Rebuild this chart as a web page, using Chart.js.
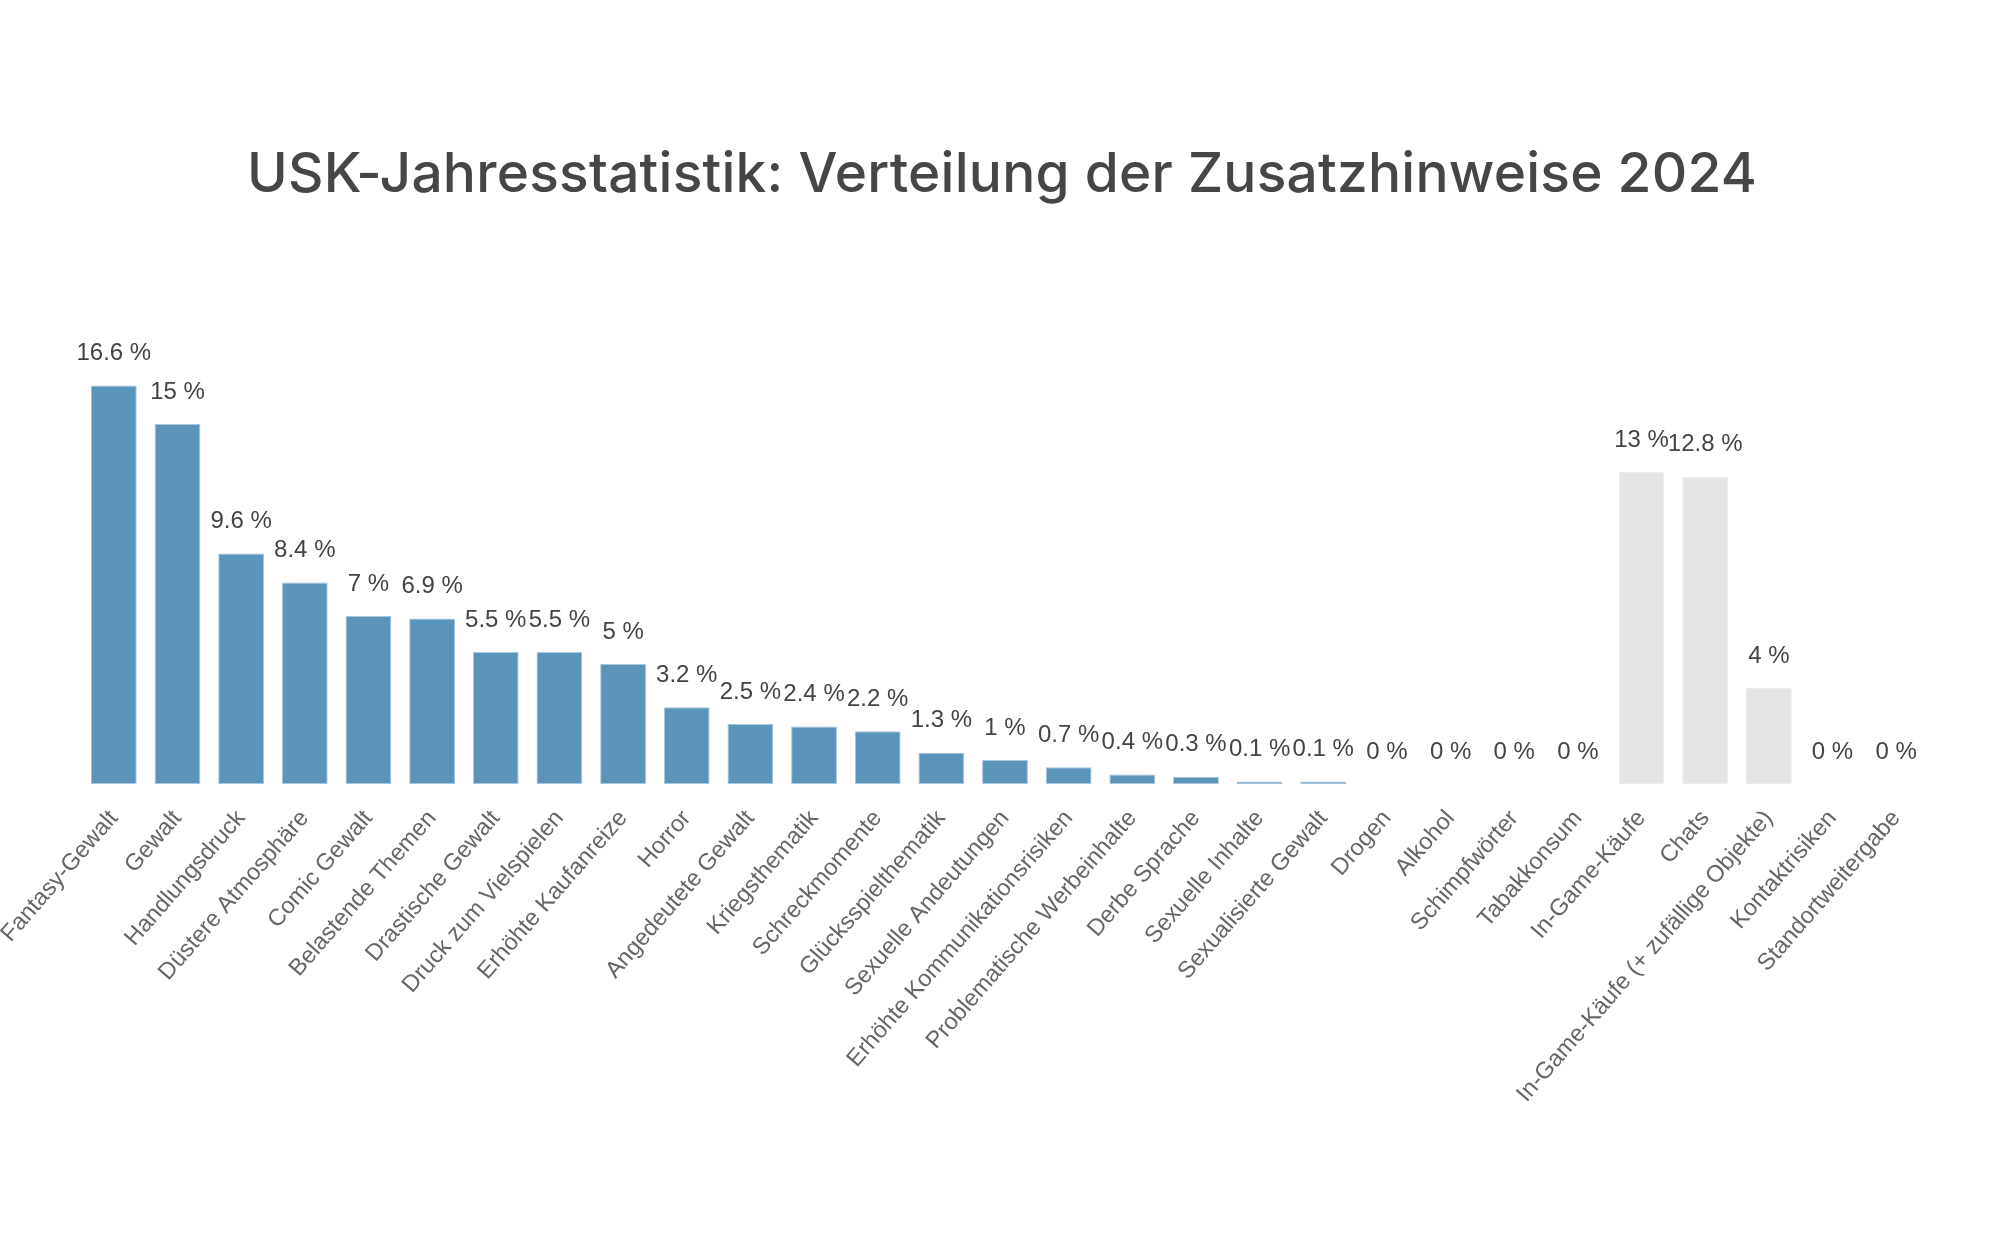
<!DOCTYPE html>
<html lang="de">
<head>
<meta charset="utf-8">
<title>USK-Jahresstatistik 2024</title>
<script src="https://cdn.jsdelivr.net/npm/chart.js@4.4.1/dist/chart.umd.min.js"></script>
<style>
  html, body { margin: 0; padding: 0; background: #fff; }
  #wrap { width: 2000px; height: 1260px; }
</style>
</head>
<body>
<div id="wrap"><canvas id="usk-chart" width="2000" height="1260"></canvas></div>
<script>
(function () {
  "use strict";

  // Zusatzhinweise (Kategorien)
  const categories = [
    "Fantasy-Gewalt", "Gewalt", "Handlungsdruck", "Düstere Atmosphäre", "Comic Gewalt",
    "Belastende Themen", "Drastische Gewalt", "Druck zum Vielspielen", "Erhöhte Kaufanreize",
    "Horror", "Angedeutete Gewalt", "Kriegsthematik", "Schreckmomente", "Glücksspielthematik",
    "Sexuelle Andeutungen", "Erhöhte Kommunikationsrisiken", "Problematische Werbeinhalte",
    "Derbe Sprache", "Sexuelle Inhalte", "Sexualisierte Gewalt", "Drogen", "Alkohol",
    "Schimpfwörter", "Tabakkonsum", "In-Game-Käufe", "Chats",
    "In-Game-Käufe (+ zufällige Objekte)", "Kontaktrisiken", "Standortweitergabe",
  ];

  // Anteil in Prozent
  const shares = [
    16.6, 15, 9.6, 8.4, 7, 6.9, 5.5, 5.5, 5, 3.2, 2.5, 2.4, 2.2, 1.3, 1, 0.7, 0.4, 0.3,
    0.1, 0.1, 0, 0, 0, 0, 13, 12.8, 4, 0, 0,
  ];

  // "inhalt" = inhaltliche Hinweise (blau), "funktion" = Funktionshinweise (grau)
  const groups = [
    "inhalt", "inhalt", "inhalt", "inhalt", "inhalt", "inhalt", "inhalt", "inhalt", "inhalt",
    "inhalt", "inhalt", "inhalt", "inhalt", "inhalt", "inhalt", "inhalt", "inhalt", "inhalt",
    "inhalt", "inhalt", "inhalt", "inhalt", "inhalt", "inhalt",
    "funktion", "funktion", "funktion", "funktion", "funktion",
  ];

  const TITLE = "USK-Jahresstatistik: Verteilung der Zusatzhinweise 2024";

  const COLORS = {
    inhalt: "#5a94bb",
    inhaltBorder: "#a6c5db",
    funktion: "#e5e5e5",
    funktionBorder: "#eeeeee",
    title: "#464646",
    text: "#444444",
    tick: "#666666",
  };

  const LABEL_FONT = "Liberation Sans, Arial, sans-serif";

  // Titel etwas breiter laufen lassen (wie im Original)
  const titleText = {
    id: "titleText",
    afterDraw(chart) {
      const { ctx } = chart;
      ctx.save();
      ctx.font = "500 55px Inter, Roboto, sans-serif";
      const w = ctx.measureText(TITLE).width;
      const spacing = Math.max(0, Math.min(4, (1510 - w) / (TITLE.length - 1)));
      ctx.letterSpacing = spacing.toFixed(2) + "px";
      ctx.fillStyle = COLORS.title;
      ctx.textAlign = "center";
      ctx.textBaseline = "alphabetic";
      ctx.fillText(TITLE, 1002, 192);
      ctx.restore();
    },
  };

  const valueLabels = {
    id: "valueLabels",
    afterDatasetsDraw(chart) {
      const { ctx } = chart;
      const meta = chart.getDatasetMeta(0);
      ctx.save();
      ctx.font = `24px ${LABEL_FONT}`;
      ctx.fillStyle = COLORS.text;
      ctx.textAlign = "center";
      ctx.textBaseline = "middle";
      meta.data.forEach((bar, i) => {
        ctx.fillText(`${shares[i]} %`, bar.x, bar.y - 32);
      });
      ctx.restore();
    },
  };

  new Chart(document.getElementById("usk-chart"), {
    type: "bar",
    data: {
      labels: categories,
      datasets: [{
        data: shares,
        backgroundColor: groups.map((g) => COLORS[g]),
        borderColor: groups.map((g) => COLORS[g + "Border"]),
        borderWidth: 1,
        borderSkipped: false,
        categoryPercentage: 1,
        barPercentage: 0.72,
      }],
    },
    options: {
      responsive: false,
      animation: false,
      devicePixelRatio: 1,
      layout: { padding: { left: 82, right: 72, top: 340, bottom: 0 } },
      plugins: {
        legend: { display: false },
        tooltip: { enabled: false },
        title: { display: false },
      },
      scales: {
        x: {
          grid: { display: false, drawTicks: false },
          border: { display: false },
          ticks: {
            autoSkip: false,
            minRotation: 49,
            maxRotation: 49,
            padding: 21,
            color: COLORS.tick,
            font: { family: LABEL_FONT, size: 23.5 },
          },
          afterFit(scale) {
            scale.paddingLeft = 0;
            scale.paddingRight = 0;
            scale.height = 476;
          },
        },
        y: {
          display: false,
          min: 0,
          max: 18.5,
        },
      },
    },
    plugins: [valueLabels, titleText],
  });
})();
</script>
</body>
</html>
